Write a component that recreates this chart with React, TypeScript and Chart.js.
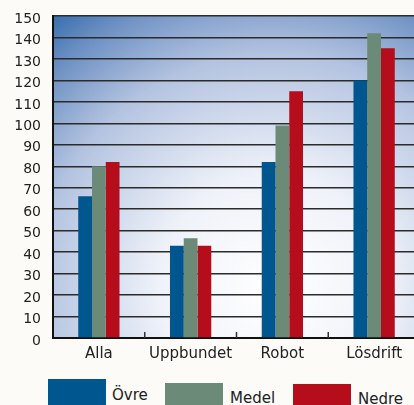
import React, { useEffect, useRef } from "react";
import { Chart, registerables } from "chart.js";

Chart.register(...registerables);

const categories = ["Alla", "Uppbundet", "Robot", "Lösdrift"];
const ovre = [66, 43, 82, 120];
const medel = [80, 46.5, 99, 142];
const nedre = [82, 43, 115, 135];
const seriesNames = ["Övre", "Medel", "Nedre"];
const seriesColors = ["#00568f", "#6b8a77", "#b50d1c"];
const yMax = 150;
const yStep = 10;

const FONT = "'DejaVu Sans', sans-serif";

const bgPlugin = {
  id: "plotBg",
  beforeDraw(chart: any) {
    const { ctx, chartArea } = chart;
    if (!chartArea) return;
    const { left, top, right, bottom } = chartArea;
    const cx = left + (right - left) * 0.6;
    const cy = top + (bottom - top) * 0.85;
    const g = ctx.createRadialGradient(cx, cy, 0, cx, cy, 380);
    g.addColorStop(0, "#ffffff");
    g.addColorStop(0.3, "#eff2f9");
    g.addColorStop(0.62, "#b3c3e0");
    g.addColorStop(0.82, "#6a8ec2");
    g.addColorStop(1, "#12579f");
    ctx.save();
    ctx.fillStyle = g;
    ctx.fillRect(left, top, right - left, bottom - top);
    ctx.restore();
  },
};

const tickPlugin = {
  id: "innerTicks",
  afterDatasetsDraw(chart: any) {
    const { ctx, chartArea, scales } = chart;
    const xs = scales.x;
    ctx.save();
    ctx.strokeStyle = "#333";
    ctx.lineWidth = 1.5;
    for (let i = 1; i < categories.length; i++) {
      const x = (xs.getPixelForValue(i - 1) + xs.getPixelForValue(i)) / 2;
      ctx.beginPath();
      ctx.moveTo(x, chartArea.bottom - 6);
      ctx.lineTo(x, chartArea.bottom);
      ctx.stroke();
    }
    ctx.restore();
  },
};

export default function App() {
  const ref = useRef<HTMLCanvasElement>(null);
  useEffect(() => {
    if (!ref.current) return;
    const chart = new Chart(ref.current, {
      type: "bar",
      data: {
        labels: categories,
        datasets: [ovre, medel, nedre].map((d, i) => ({
          label: seriesNames[i],
          data: d,
          backgroundColor: seriesColors[i],
          borderWidth: 0,
          barPercentage: 1,
          categoryPercentage: 0.45,
        })),
      },
      options: {
        responsive: false,
        animation: false,
        devicePixelRatio: 1,
        layout: { padding: { top: 16, right: 2, left: 0, bottom: 0 } },
        plugins: { legend: { display: false }, tooltip: { enabled: false } },
        scales: {
          x: {
            grid: { display: false, drawTicks: false },
            border: { display: true, color: "#111", width: 2 },
            ticks: { color: "#222", font: { family: FONT, size: 15 }, padding: 7 },
            afterFit(scale: any) {
              scale.height = 26;
            },
          },
          y: {
            min: 0,
            max: yMax,
            grid: { color: "#2b2b2b", lineWidth: 1.5, drawTicks: false },
            border: { display: true, color: "#111", width: 2 },
            ticks: {
              stepSize: yStep,
              color: "#222",
              font: { family: FONT, size: 14 },
              padding: 12,
              labelOffset: 3,
            },
            afterFit(scale: any) {
              scale.width = 53;
              scale.paddingTop = 0;
            },
          },
        },
      },
      plugins: [bgPlugin, tickPlugin],
    });
    return () => chart.destroy();
  }, []);

  const legendItems = [
    { box: [48, 379], text: [112, 386] },
    { box: [165, 383], text: [230, 389] },
    { box: [293, 384], text: [358, 390] },
  ];

  return (
    <div
      style={{
        position: "fixed",
        left: 0,
        top: 0,
        width: 414,
        height: 405,
        overflow: "hidden",
        background: "#fcfbf8",
      }}
    >
      <canvas ref={ref} width={422} height={364} style={{ position: "absolute", left: 0, top: 0 }} />
      {legendItems.map((it, i) => (
        <React.Fragment key={i}>
          <div
            style={{
              position: "absolute",
              left: it.box[0],
              top: it.box[1],
              width: 58,
              height: 30,
              background: seriesColors[i],
            }}
          />
          <div
            style={{
              position: "absolute",
              left: it.text[0],
              top: it.text[1],
              fontFamily: FONT,
              fontSize: 15,
              lineHeight: "18px",
              color: "#222",
              whiteSpace: "nowrap",
            }}
          >
            {seriesNames[i]}
          </div>
        </React.Fragment>
      ))}
    </div>
  );
}
